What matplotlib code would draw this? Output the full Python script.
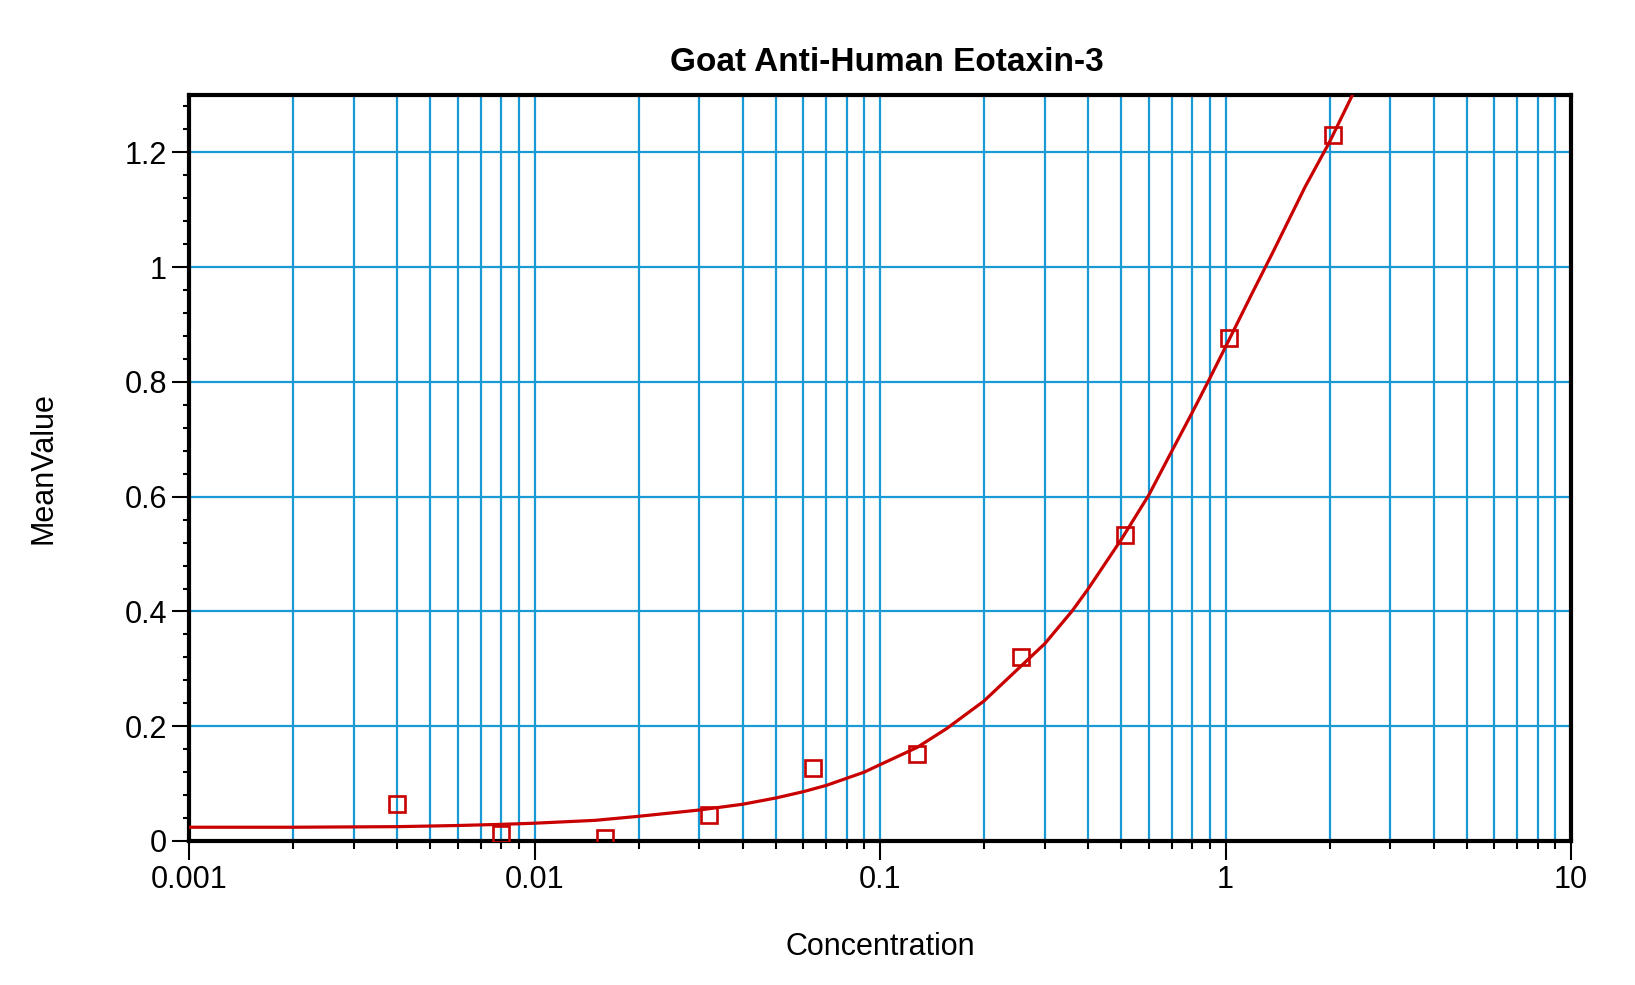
import numpy as np
import matplotlib
matplotlib.use("Agg")
import matplotlib.pyplot as plt
from matplotlib.ticker import FixedLocator, NullFormatter, MultipleLocator

plt.rcParams["font.family"] = ["Liberation Sans", "DejaVu Sans"]

# standards (concentration, mean value)
conc = [0.004, 0.008, 0.016, 0.032, 0.064, 0.128, 0.256, 0.512, 1.024, 2.048]
mean_value = [0.064, 0.012, 0.006, 0.045, 0.128, 0.152, 0.321, 0.534, 0.877, 1.230]

# fitted curve
curve_x = [0.001, 0.002, 0.004, 0.006, 0.008, 0.01, 0.015, 0.02, 0.03, 0.04,
           0.05, 0.06, 0.07, 0.09, 0.1, 0.128, 0.156, 0.2, 0.3, 0.36, 0.4,
           0.5, 0.6, 0.7, 0.8, 0.9, 1.0, 1.2, 1.374, 1.7, 2.0, 2.33]
curve_y = [0.024, 0.024, 0.025, 0.027, 0.029, 0.031, 0.036, 0.043, 0.054, 0.064,
           0.075, 0.086, 0.097, 0.120, 0.133, 0.163, 0.196, 0.244, 0.344, 0.401, 0.439,
           0.526, 0.603, 0.680, 0.746, 0.806, 0.861, 0.957, 1.027, 1.140, 1.218, 1.300]

xtick_vals = [0.001, 0.01, 0.1, 1, 10]
xtick_labels = ["0.001", "0.01", "0.1", "1", "10"]
ytick_vals = [0, 0.2, 0.4, 0.6, 0.8, 1.0, 1.2]
ytick_labels = ["0", "0.2", "0.4", "0.6", "0.8", "1", "1.2"]

red = "#c80000"
grid_blue = "#1a9ad4"

fig = plt.figure(figsize=(16.35, 9.85), dpi=100)
ax = fig.add_axes([189 / 1635, 1 - 841 / 985, (1571 - 189) / 1635, (841 - 95) / 985])

ax.plot(curve_x, curve_y, color=red, lw=2.3, zorder=3, solid_joinstyle="round")
ax.plot(conc, mean_value, ls="none", marker="s", ms=12, mfc="none",
        mec=red, mew=1.9, zorder=4)

ax.set_xscale("log")
ax.set_xlim(0.001, 10)
ax.set_ylim(0, 1.3)

ax.xaxis.set_major_locator(FixedLocator(xtick_vals))
ax.set_xticklabels(xtick_labels)
ax.xaxis.set_minor_formatter(NullFormatter())
ax.set_yticks(ytick_vals)
ax.set_yticklabels(ytick_labels)
ax.yaxis.set_minor_locator(MultipleLocator(0.04))

ax.set_axisbelow(True)
ax.grid(which="both", axis="x", color=grid_blue, lw=1.6)
ax.grid(which="major", axis="y", color=grid_blue, lw=1.6)

for s in ax.spines.values():
    s.set_linewidth(3)
    s.set_color("black")

ax.tick_params(axis="x", which="major", direction="out", length=13.5, width=1.5,
               labelsize=22, pad=4)
ax.tick_params(axis="x", which="minor", direction="out", length=5.5, width=1.5)
ax.tick_params(axis="y", which="major", direction="out", length=12, width=1.5,
               labelsize=22, pad=4)
ax.tick_params(axis="y", which="minor", direction="out", length=4.5, width=1.5)

ax.set_xlabel("Concentration", fontsize=22, va="center")
ax.xaxis.set_label_coords(0.5, -0.142)
ax.set_ylabel("MeanValue", fontsize=22, va="center")
ax.yaxis.set_label_coords(-0.105, 0.5)

ax.set_title("Goat Anti-Human Eotaxin-3", fontsize=24, fontweight="bold",
             x=0.505, y=(841 - 62) / 746, va="center", pad=0)

fig.savefig("out.png", dpi=100)
